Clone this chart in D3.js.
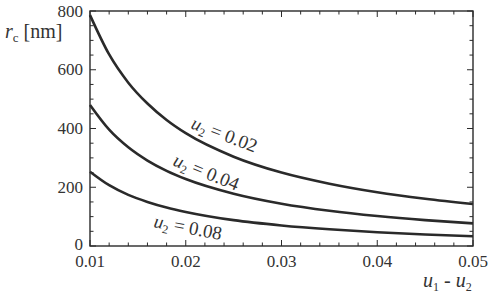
<!DOCTYPE html>
<html><head><meta charset="utf-8">
<script src="https://cdn.jsdelivr.net/npm/d3@7"></script>
<style>body{margin:0;background:#fff}svg{display:block}
svg text{font-family:"Liberation Serif","DejaVu Serif","Times New Roman",Times,serif !important}</style>
</head><body><svg id="c" width="493" height="299"></svg>
<script>
const xValues = [0.010,0.012,0.014,0.016,0.018,0.020,0.025,0.030,0.035,0.040,0.045,0.050];
const seriesU002 = [786,652,556,485,429,384,304,250,212,183,161,143];
const seriesU004 = [480,396,336,291,256,228,178,144,120,102,88,77];
const seriesU008 = [253,207,174,150,131,116,88,70,57,47,39,33];
const seriesLabels = ["0.02","0.04","0.08"];
const xTicks = [0.01,0.02,0.03,0.04,0.05];
const yTicks = [0,200,400,600,800];

const svg = d3.select("#c");
const L=90,R=473,T=11,B=246;
const x = d3.scaleLinear().domain([0.01,0.05]).range([L,R]);
const y = d3.scaleLinear().domain([0,800]).range([B,T]);
const ink="#2a2a2a", txt="#333";

const xMinor = d3.range(0.01,0.0501,0.002);
const yMinor = d3.range(0,801,50);
const g = svg.append("g").attr("stroke",ink).attr("stroke-width",1);
xMinor.forEach(v=>{
  const major = xTicks.some(t=>Math.abs(t-v)<1e-9);
  const len = major?6:3.5;
  g.append("line").attr("x1",x(v)).attr("x2",x(v)).attr("y1",B).attr("y2",B-len);
  g.append("line").attr("x1",x(v)).attr("x2",x(v)).attr("y1",T).attr("y2",T+len);
});
yMinor.forEach(v=>{
  const major = yTicks.includes(v);
  const len = major?6:3.5;
  g.append("line").attr("y1",y(v)).attr("y2",y(v)).attr("x1",L).attr("x2",L+len);
  g.append("line").attr("y1",y(v)).attr("y2",y(v)).attr("x1",R).attr("x2",R-len);
});
svg.append("rect").attr("x",L).attr("y",T).attr("width",R-L).attr("height",B-T)
  .attr("fill","none").attr("stroke",ink).attr("stroke-width",1.4);

svg.selectAll(".xl").data(xTicks).enter().append("text").attr("fill",txt)
  .attr("x",d=>x(d)).attr("y",267).attr("text-anchor","middle").attr("font-size",17)
  .text(d=>d3.format(".2f")(d));
svg.selectAll(".yl").data(yTicks).enter().append("text").attr("fill",txt)
  .attr("x",83).attr("y",d=>y(d)+(d===0?3.5:5.5)).attr("text-anchor","end").attr("font-size",17)
  .text(d=>d);

const line = d3.line().x((d,i)=>x(xValues[i])).y(d=>y(d)).curve(d3.curveMonotoneX);
[seriesU002,seriesU004,seriesU008].forEach(s=>{
  svg.append("path").attr("d",line(s)).attr("fill","none").attr("stroke",ink).attr("stroke-width",2.6);
});

const labelPos = [[190,128,21],[172,165,22],[153,227,11]];
labelPos.forEach((p,i)=>{
  const t = svg.append("text").attr("font-size",19).attr("fill",txt)
    .attr("transform",`translate(${p[0]},${p[1]}) rotate(${p[2]})`);
  t.append("tspan").attr("font-style","italic").text("u");
  t.append("tspan").attr("font-size",12).attr("dy",4).text("2");
  t.append("tspan").attr("dy",-4).text(" = "+seriesLabels[i]);
});

const yt = svg.append("text").attr("x",5).attr("y",38).attr("font-size",20).attr("fill",txt);
yt.append("tspan").attr("font-style","italic").text("r");
yt.append("tspan").attr("font-size",13).attr("dy",4).text("c");
yt.append("tspan").attr("dy",-4).text(" [nm]");

const xt = svg.append("text").attr("x",423).attr("y",287).attr("font-size",20).attr("fill",txt);
xt.append("tspan").attr("font-style","italic").text("u");
xt.append("tspan").attr("font-size",12).attr("dy",4).text("1");
xt.append("tspan").attr("dy",-4).text(" - ");
xt.append("tspan").attr("font-style","italic").text("u");
xt.append("tspan").attr("font-size",12).attr("dy",4).text("2");
</script></body></html>
